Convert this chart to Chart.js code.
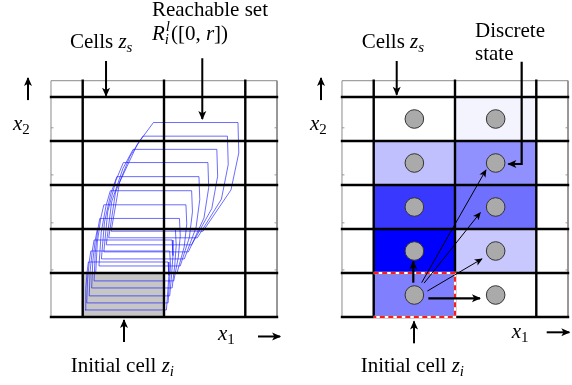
<!DOCTYPE html>
<html>
<head>
<meta charset="utf-8">
<script src="https://cdn.jsdelivr.net/npm/chart.js@4.4.1/dist/chart.umd.min.js"></script>
<style>
  html, body { margin: 0; padding: 0; background: #fff; overflow: hidden; }
  #chart { display: block; width: 572px; height: 385px; }
</style>
</head>
<body>
<canvas id="chart" width="572" height="385"></canvas>
<script>
// everything is in cell units: one cell is 1 wide and 1 high, initial cell is [0,1] x [0,1]
const cellCols = [0, 1, 2];
const cellRows = [0, 1, 2, 3, 4, 5];
const boxX = [-0.39, 2.39];
const boxTop = 5.37;
const axisTicks = [1.07, 2.14, 3.23, 4.30];

// reachable set R_i^l, one polygon per time step (left panel)
const reachTop         = [1.25, 1.50, 1.75, 2.00, 2.24, 2.55, 2.87, 3.19, 3.51, 3.81, 4.11, 4.42];
const reachBottom      = [0.16, 0.32, 0.48, 0.66, 0.82, 1.00, 1.16, 1.32, 1.48, 1.64, 1.80, 1.95];
const reachTopLeft     = [0.07, 0.10, 0.14, 0.18, 0.21, 0.26, 0.34, 0.42, 0.50, 0.62, 0.74, 0.87];
const reachBottomLeft  = [0.03, 0.05, 0.08, 0.11, 0.14, 0.16, 0.20, 0.23, 0.26, 0.29, 0.32, 0.35];
const reachRight       = [1.05, 1.07, 1.10, 1.14, 1.19, 1.27, 1.34, 1.43, 1.54, 1.65, 1.78, 1.91];
const reachBottomRight = [1.03, 1.05, 1.07, 1.10, 1.12, 1.16, 1.20, 1.25, 1.30, 1.34, 1.41, 1.48];

// right panel: blue shading of each cell (0 = white, 255 = full blue), rows bottom to top
const shadeCol1 = [127, 255, 199, 63, 0];
const shadeCol2 = [0, 55, 143, 111, 11];
const stateX = [0.5, 1.5];
const stateY = [0.5, 1.5, 2.5, 3.5, 4.5];

// transitions from the initial discrete state
const jumpFrom = [[0.59, 0.78], [0.62, 0.77], [0.66, 0.59]];
const jumpTo   = [[1.38, 3.34], [1.31, 2.37], [1.33, 1.32]];

const serif = '"Liberation Serif"';
const fontSize = 21;

let pt = (x, y) => ({x: x, y: y});

let lineSet = function (data, color, width, order, extra) {
  return Object.assign({
    data: data, borderColor: color, borderWidth: width, pointRadius: 0,
    fill: false, tension: 0, order: order, spanGaps: false
  }, extra || {});
};

let arrowSet = function (pts, width, head, order, extra) {
  return lineSet(pts.map(p => pt(p[0], p[1])), '#000', width, order, Object.assign({head: head}, extra || {}));
};

// thick cell grid, thin outer frame and the small axis ticks
let gridSets = function (axis) {
  let grid = [];
  cellCols.forEach(c => grid.push(pt(c, 0), pt(c, boxTop), pt(c, null)));
  cellRows.forEach(r => grid.push(pt(boxX[0], r), pt(boxX[1], r), pt(boxX[1], null)));
  let frame = [pt(boxX[0], 0), pt(boxX[0], boxTop), pt(boxX[1], boxTop), pt(boxX[1], 0)];
  let ticks = [];
  axisTicks.forEach(t => ticks.push(pt(boxX[0], t), pt(boxX[0] + 0.03, t), pt(boxX[0], null),
                                   pt(boxX[1] - 0.03, t), pt(boxX[1], t), pt(boxX[1], null)));
  return [
    lineSet(frame, '#8a8a8a', 1, 4, {xAxisID: axis}),
    lineSet(ticks, '#9a9a9a', 1, 4, {xAxisID: axis}),
    lineSet(grid, '#000', 2.4, 3, {borderCapStyle: 'square', xAxisID: axis})
  ];
};

let cellFill = function (x0, y0, color, axis) {
  return lineSet([pt(x0, y0 + 1), pt(x0 + 1, y0 + 1)], 'rgba(0,0,0,0)', 0, 20,
                 {fill: {value: y0}, backgroundColor: color, xAxisID: axis});
};

let reachPolygon = function (k) {
  let xt = reachTopLeft[k], yt = reachTop[k], xr = reachRight[k];
  let xb = reachBottomLeft[k], yb = reachBottom[k], xbr = reachBottomRight[k];
  let h = yt - yb;
  return [
    pt(xt, yt), pt(xr, yt),
    pt(xr + 0.01, yt - 0.28 * h),
    pt(xr - 0.2 * (xr - xbr), yt - 0.62 * h),
    pt(xbr, yb), pt(xb, yb),
    pt(xb + 0.2 * (xt - xb), yt - 0.55 * h),
    pt(xb + 0.62 * (xt - xb), yt - 0.2 * h),
    pt(xt, yt)
  ];
};

// draw a label made of runs: plain, italic, sub/superscripts
let drawRuns = function (ctx, x, y, runs) {
  let cx = x;
  runs.forEach(r => {
    if (r.t !== undefined) {
      ctx.font = (r.i ? 'italic ' : '') + fontSize + 'px ' + serif;
      ctx.fillText(r.t, cx, y);
      cx += ctx.measureText(r.t).width;
    } else {
      let small = Math.round(fontSize * 0.7);
      ctx.font = (r.up ? '' : 'italic ') + small + 'px ' + serif;
      let w = 0;
      if (r.sub) { ctx.fillText(r.sub, cx, y + fontSize * 0.2); w = Math.max(w, ctx.measureText(r.sub).width); }
      if (r.sup) { ctx.fillText(r.sup, cx + 1, y - fontSize * 0.42); w = Math.max(w, ctx.measureText(r.sup).width + 1); }
      cx += w + 1;
    }
  });
};

let overlay = {
  id: 'overlay',
  afterDatasetsDraw: function (chart) {
    let ctx = chart.ctx;
    // arrow heads at the last point of every arrow dataset
    chart.data.datasets.forEach(function (ds, i) {
      if (!ds.head) return;
      let pts = chart.getDatasetMeta(i).data;
      let a = pts[pts.length - 2], b = pts[pts.length - 1];
      let ang = Math.atan2(b.y - a.y, b.x - a.x);
      let len = ds.head, half = ds.head * 0.5;
      ctx.save();
      ctx.translate(b.x, b.y);
      ctx.rotate(ang);
      ctx.beginPath();
      ctx.moveTo(1, 0);
      ctx.lineTo(-len, -half);
      ctx.lineTo(-len * 0.72, 0);
      ctx.lineTo(-len, half);
      ctx.closePath();
      ctx.fillStyle = '#000';
      ctx.fill();
      ctx.restore();
    });
    ctx.save();
    ctx.fillStyle = '#000';
    ctx.textBaseline = 'alphabetic';
    let sy = chart.scales.y;
    labels.forEach(l => drawRuns(ctx, chart.scales[l.axis].getPixelForValue(l.x), sy.getPixelForValue(l.y), l.runs));
    ctx.restore();
  }
};

// ---- left panel: reachable set ----
let datasets = [cellFill(0, 0, '#c6c6c6', 'x')];
reachTop.forEach((t, k) => datasets.push(lineSet(reachPolygon(k), 'rgba(20,20,255,0.7)', 0.9, 10)));
datasets = datasets.concat(gridSets('x'));
datasets.push(
  arrowSet([[-0.673, 4.93], [-0.673, 5.43]], 2, 8, 1),
  arrowSet([[2.156, -0.443], [2.428, -0.443]], 2, 8, 1),
  arrowSet([[0.287, 5.82], [0.287, 5.03]], 2, 8, 1),
  arrowSet([[1.471, 5.88], [1.471, 4.50]], 2, 8, 1),
  arrowSet([[0.508, -0.568], [0.508, -0.07]], 2, 8, 1)
);

// ---- right panel: discrete abstraction ----
let shade = s => 'rgb(' + (255 - s) + ',' + (255 - s) + ',255)';
shadeCol1.forEach((s, r) => datasets.push(cellFill(0, r, shade(s), 'xR')));
shadeCol2.forEach((s, r) => datasets.push(cellFill(1, r, shade(s), 'xR')));
datasets = datasets.concat(gridSets('xR'));
// initial cell outline: white under, red dashes on top
let initEdge = [pt(0, 1), pt(1, 1), pt(1, 0), pt(0, 0)];
datasets.push(
  lineSet(initEdge, '#ff1a1a', 2, 2, {borderDash: [5, 3.5], xAxisID: 'xR'}),
  lineSet(initEdge, '#ffffff', 2.4, 2.5, {xAxisID: 'xR'})
);
let states = [];
stateX.forEach(x => stateY.forEach(y => states.push(pt(x, y))));
datasets.push(lineSet(states, '#333', 1, 0, {
  showLine: false, pointRadius: 9.3, pointBackgroundColor: '#aaaaaa',
  pointBorderColor: '#333333', pointBorderWidth: 1, xAxisID: 'xR'
}));
let onRight = {xAxisID: 'xR'};
jumpFrom.forEach((f, j) => datasets.push(arrowSet([f, jumpTo[j]], 1, 7, 1, onRight)));
datasets.push(
  arrowSet([[0.487, 0.78], [0.487, 1.26]], 2.2, 8, 1, onRight),
  arrowSet([[0.672, 0.425], [1.307, 0.425]], 2.2, 8, 1, onRight),
  arrowSet([[1.820, 5.80], [1.820, 3.477], [1.656, 3.477]], 2.2, 8, 1, onRight),
  arrowSet([[-0.648, 4.93], [-0.648, 5.43]], 2, 8, 1, onRight),
  arrowSet([[2.128, -0.348], [2.406, -0.348]], 2, 8, 1, onRight),
  arrowSet([[0.283, 5.82], [0.283, 5.05]], 2, 8, 1, onRight),
  arrowSet([[0.496, -0.598], [0.496, -0.10]], 2, 8, 1, onRight)
);

const labels = [
  {axis: 'x', x: -0.156, y: 6.114, runs: [{t: 'Cells '}, {t: 'z', i: 1}, {sub: 's'}]},
  {axis: 'x', x: 0.852, y: 6.841, runs: [{t: 'Reachable set'}]},
  {axis: 'x', x: 0.852, y: 6.295, runs: [{t: 'R', i: 1}, {sub: 'i', sup: 'l'}, {t: '([0, '}, {t: 'r', i: 1}, {t: '])'}]},
  {axis: 'x', x: -0.857, y: 4.25, runs: [{t: 'x', i: 1}, {sub: '2', up: 1}]},
  {axis: 'x', x: 1.664, y: -0.523, runs: [{t: 'x', i: 1}, {sub: '1', up: 1}]},
  {axis: 'x', x: -0.148, y: -1.25, runs: [{t: 'Initial cell '}, {t: 'z', i: 1}, {sub: 'i'}]},
  {axis: 'xR', x: -0.148, y: 6.114, runs: [{t: 'Cells '}, {t: 'z', i: 1}, {sub: 's'}]},
  {axis: 'xR', x: 1.246, y: 6.37, runs: [{t: 'Discrete'}]},
  {axis: 'xR', x: 1.246, y: 5.84, runs: [{t: 'state'}]},
  {axis: 'xR', x: -0.784, y: 4.25, runs: [{t: 'x', i: 1}, {sub: '2', up: 1}]},
  {axis: 'xR', x: 1.697, y: -0.477, runs: [{t: 'x', i: 1}, {sub: '1', up: 1}]},
  {axis: 'xR', x: -0.16, y: -1.25, runs: [{t: 'Initial cell '}, {t: 'z', i: 1}, {sub: 'i'}]}
];

// one canvas, two horizontal scales: one per panel, same cell size (81.3 px per cell)
let ctx = document.getElementById('chart').getContext('2d');
new Chart(ctx, {
  type: 'line',
  data: {datasets: datasets},
  options: {
    responsive: false,
    animation: false,
    events: [],
    devicePixelRatio: 1,
    layout: {padding: 0, autoPadding: false},
    scales: {
      x:  {type: 'linear', min: -1.0172, max: -1.0172 + 572 / 81.3, display: false},
      xR: {type: 'linear', axis: 'x', min: -4.5966, max: -4.5966 + 572 / 81.3, display: false},
      y:  {type: 'linear', min: -1.5455, max: 7.2045, display: false}
    },
    plugins: {legend: {display: false}, tooltip: {enabled: false}}
  },
  plugins: [overlay]
});
</script>
</body>
</html>
